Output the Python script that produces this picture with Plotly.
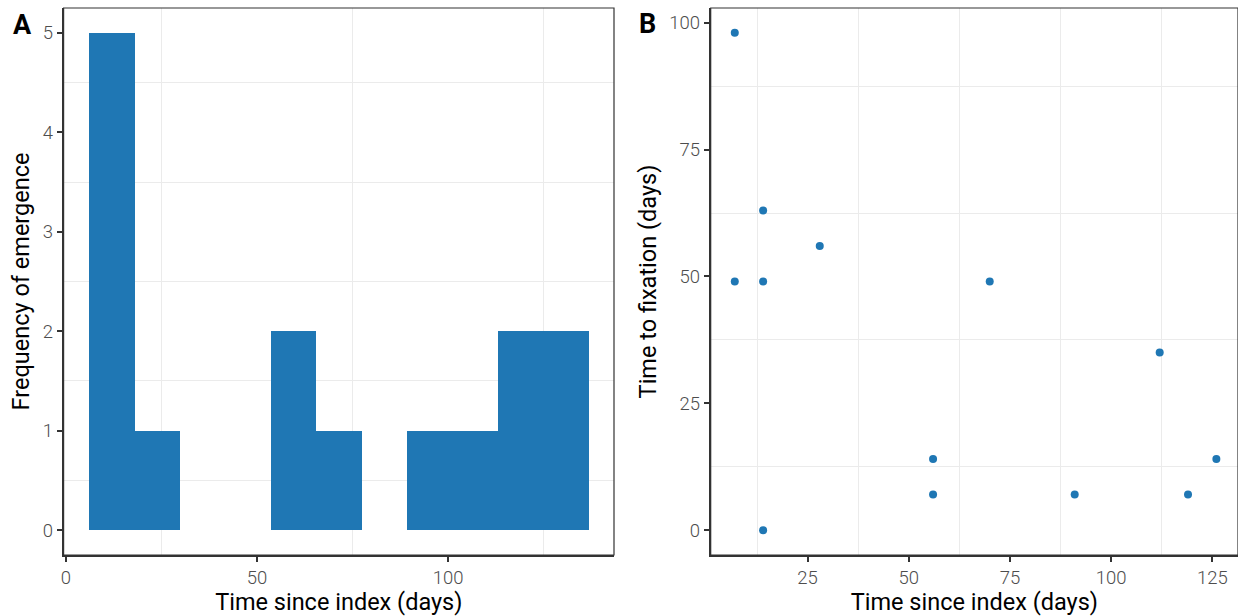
import plotly.graph_objects as go

# Panel A: histogram (ggplot bins=11 over 7..126)
bin_start = 5.95
bin_width = 11.9
bin_counts = [5, 1, 0, 0, 2, 1, 0, 1, 1, 2, 2]
bin_centers = [bin_start + bin_width * (i + 0.5) for i in range(len(bin_counts))]

# Panel B: scatter
time_since_index = [7, 7, 14, 14, 14, 28, 56, 56, 70, 91, 112, 119, 126]
time_to_fixation = [98, 49, 63, 49, 0, 56, 14, 7, 49, 7, 35, 7, 14]

a_xticks = [0, 50, 100]
a_yticks = [0, 1, 2, 3, 4, 5]
b_xticks = [25, 50, 75, 100, 125]
b_yticks = [0, 25, 50, 75, 100]

BLUE = "#1f77b4"
W, H = 1238, 616
FONT = "Roboto"
TICKC = "#4d4d4d"

fig = go.Figure()
fig.add_trace(go.Bar(x=bin_centers, y=bin_counts, width=bin_width,
                     marker=dict(color=BLUE, line=dict(width=0)),
                     xaxis="x", yaxis="y", showlegend=False))
fig.add_trace(go.Scatter(x=time_since_index, y=time_to_fixation, mode="markers",
                         marker=dict(color=BLUE, size=8),
                         xaxis="x2", yaxis="y2", showlegend=False))

def axis(domain, rng, ticks, minor, anchor, title, standoff):
    return dict(domain=domain, range=rng, tickvals=ticks, ticktext=[str(t) for t in ticks],
                showgrid=False, zeroline=False, showline=True, linecolor="#333333",
                linewidth=2, ticks="outside", ticklen=5, tickwidth=2, tickcolor="#333333",
                tickfont=dict(family=FONT, size=18.5, color=TICKC, weight=300),
                minor=dict(tickvals=minor, showgrid=True, gridcolor="#ebebeb", gridwidth=1, ticks=""),
                anchor=anchor, automargin=False,
                title=dict(text=title, font=dict(family=FONT, size=23.5, color="black"), standoff=standoff))

xa_dom = [63.6 / W, 614 / W]
xb_dom = [710.7 / W, 1.0]

fig.update_layout(
    width=W, height=H, plot_bgcolor="white", paper_bgcolor="white",
    margin=dict(l=0, r=0, t=8, b=61), bargap=0,
    xaxis=axis(xa_dom, [-0.6, 143.4], a_xticks, [25, 75, 125], "y", "Time since index (days)", 0),
    yaxis=axis([0, 1], [-0.25, 5.25], a_yticks, [0.5, 1.5, 2.5, 3.5, 4.5], "x", "Frequency of emergence", 6),
    xaxis2=axis(xb_dom, [1.05, 131.35], b_xticks, [12.5, 37.5, 62.5, 87.5, 112.5], "y2", "Time since index (days)", 0),
    yaxis2=axis([0, 1], [-4.9, 102.9], b_yticks, [12.5, 37.5, 62.5, 87.5], "x2", "Time to fixation (days)", 6),
    shapes=[
        dict(type="rect", xref="x domain", yref="y domain", x0=0, x1=1, y0=0, y1=1,
             line=dict(color="#333333", width=1.2), fillcolor="rgba(0,0,0,0)", layer="above"),
        dict(type="rect", xref="x2 domain", yref="y2 domain", x0=0, x1=1, y0=0, y1=1,
             line=dict(color="#333333", width=1.2), fillcolor="rgba(0,0,0,0)", layer="above"),
    ],
    annotations=[
        dict(text="<b>A</b>", x=22 / W, y=1 - 19 / H, xref="paper", yref="paper", showarrow=False,
             font=dict(family=FONT, size=27, color="black"), xanchor="center", yanchor="middle"),
        dict(text="<b>B</b>", x=647 / W, y=1 - 18 / H, xref="paper", yref="paper", showarrow=False,
             font=dict(family=FONT, size=27, color="black"), xanchor="center", yanchor="middle"),
    ],
)

fig.write_html("out.html")
